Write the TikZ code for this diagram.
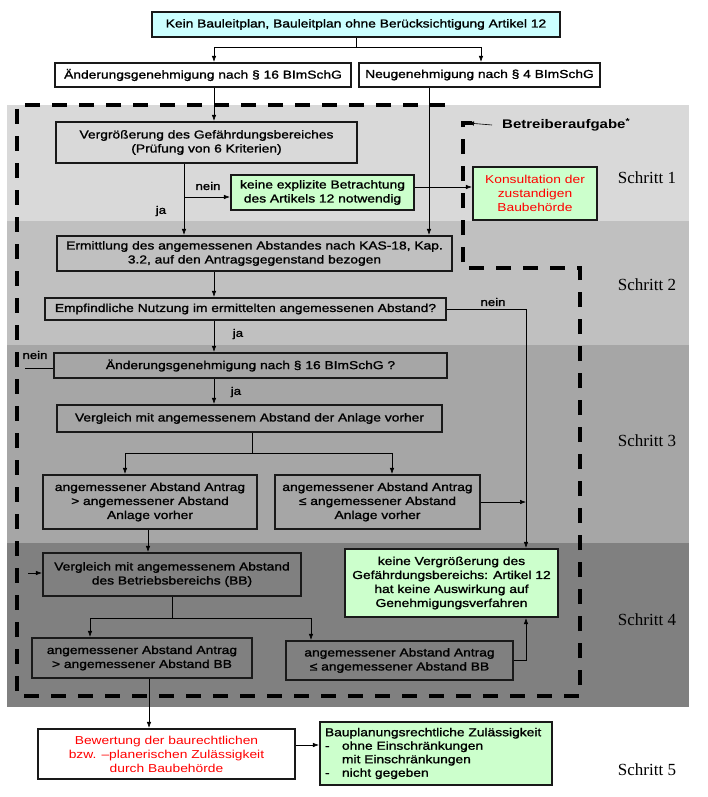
\documentclass[tikz,border=0pt]{standalone}
\usepackage{fontspec}
\setmainfont{Liberation Serif}
\newfontfamily\boxfont{Liberation Sans}[FakeStretch=1.2,FakeBold=1.4]
\newfontfamily\redfont{Liberation Sans}[FakeStretch=1.2]
\usetikzlibrary{arrows.meta,positioning,calc}
\definecolor{bandA}{RGB}{217,217,217}
\definecolor{bandB}{RGB}{192,192,192}
\definecolor{bandC}{RGB}{166,166,166}
\definecolor{bandD}{RGB}{128,128,128}
\definecolor{paleGreen}{RGB}{204,255,204}
\definecolor{paleCyan}{RGB}{204,255,255}
\definecolor{boxline}{RGB}{25,25,25}
\tikzset{stepbox/.style={rectangle,
       draw=boxline,
       line width=2.2pt,
       inner sep=2pt,
       align=center,
       font=\boxfont\fontsize{11.5}{14}\selectfont
     },
     wh/.style 2 args={minimum width=#1pt,minimum height=#2pt},
     greenbox/.style={stepbox,fill=paleGreen},
     cyanbox/.style={stepbox,fill=paleCyan},
     whitebox/.style={stepbox,fill=white},
     redtext/.style={text=red,font=\redfont\fontsize{11.5}{14}\selectfont},
     answer/.style={font=\boxfont\fontsize{11}{13}\selectfont,inner sep=1pt},
     schritt/.style={font=\fontsize{17}{20}\selectfont}
}

\begin{document}
\begin{tikzpicture}[
    x=1pt,y=-1pt,
    flow/.style={draw=black,line width=0.6pt},
    arr/.style={flow,-{Latex[length=6pt,width=4.5pt]}},
    operator/.style={line width=4.5pt,dash pattern=on 15pt off 12pt}]
    \useasboundingbox (0,0) rectangle (708,797);
    % bands of the five steps
    \fill[bandA] (7,105) rectangle (689,221);
    \fill[bandB] (7,221) rectangle (689,345);
    \fill[bandC] (7,345) rectangle (689,543);
    \fill[bandD] (7,543) rectangle (689,707);
    \draw[operator] (445,105) -- (17,105) -- (17,696) -- (580,696) -- (580,268)
      -- (463,268) -- (463,123) -- (472,123);

    \node[cyanbox,wh={408}{25}] (kein) at (356,24.5) {Kein Bauleitplan, Bauleitplan ohne Berücksichtigung Artikel 12};
    \node[whitebox,wh={296}{24}] (aendg) at (203,75) {Änderungsgenehmigung nach § 16 BImSchG};
    \node[whitebox,wh={241}{24}] (neug) at (479.5,75) {Neugenehmigung nach § 4 BImSchG};

    % Schritt 1
    \node[stepbox,wh={301}{41}] (vergr) at (206.5,142.5) {Vergrößerung des Gefährdungsbereiches\\(Prüfung von 6 Kriterien)};
    \node[greenbox,wh={183}{35}] (keinbetr) at (322.5,192.5) {keine explizite Betrachtung\\des Artikels 12 notwendig};
    \node[greenbox,redtext,wh={124}{53}] (konsult) at (535,193.5) {Konsultation der\\zustandigen\\Baubehörde};
    \node[font=\redfont\bfseries\fontsize{12.5}{15}\selectfont,inner sep=0pt,anchor=west] (betreiber) at (502,125) {Betreiberaufgabe\textsuperscript{*}};

    % Schritt 2
    \node[stepbox,wh={395}{35}] (ermitt) at (254.5,253.5) {Ermittlung des angemessenen Abstandes nach KAS-18, Kap.\\3.2, auf den Antragsgegenstand bezogen};
    \node[stepbox,wh={401}{22}] (empf) at (245.5,309) {Empfindliche Nutzung im ermittelten angemessenen Abstand?};

    % Schritt 3
    \node[stepbox,wh={393}{25}] (aendq) at (250.5,365.5) {Änderungsgenehmigung nach § 16 BImSchG ?};
    \node[stepbox,wh={385}{27}] (vglalt) at (249.5,418.5) {Vergleich mit angemessenem Abstand der Anlage vorher};
    \node[stepbox,wh={214}{54}] (groesseralt) at (150,502) {angemessener Abstand Antrag\\> angemessener Abstand\\Anlage vorher};
    \node[stepbox,wh={205}{54}] (kleineralt) at (377.5,502) {angemessener Abstand Antrag\\≤ angemessener Abstand\\Anlage vorher};

    % Schritt 4
    \node[stepbox,wh={258}{43}] (vglbb) at (172,574.5) {Vergleich mit angemessenem Abstand\\des Betriebsbereichs (BB)};
    \node[greenbox,wh={213}{68}] (keinevg) at (451.5,583) {keine Vergrößerung des\\Gefährdungsbereichs: Artikel 12\\hat keine Auswirkung auf\\Genehmigungsverfahren};
    \node[stepbox,wh={220}{40}] (groesserbb) at (142,658) {angemessener Abstand Antrag\\> angemessener Abstand BB};
    \node[stepbox,wh={227}{39}] (kleinerbb) at (399.5,660.5) {angemessener Abstand Antrag\\≤ angemessener Abstand BB};

    % Schritt 5
    \node[whitebox,redtext,wh={257}{50}] (bewert) at (166.5,754) {Bewertung der baurechtlichen\\bzw. –planerischen Zulässigkeit\\durch Baubehörde};
    \node[greenbox,wh={232}{63},align=left,text width=222pt,inner sep=3pt,font=\boxfont\fontsize{11.5}{13.5}\selectfont] (zulaess) at (436,753.5)
      {Bauplanungsrechtliche Zulässigkeit\\\makebox[17pt][l]{-}ohne Einschränkungen\\\hspace*{17pt}mit Einschränkungen\\\makebox[17pt][l]{-}nicht gegeben};

    \node[schritt] (schritt1) at (647,178) {Schritt 1};
    \node[schritt] (schritt2) at (647,285) {Schritt 2};
    \node[schritt] (schritt3) at (647,441) {Schritt 3};
    \node[schritt] (schritt4) at (647,620) {Schritt 4};
    \node[schritt] (schritt5) at (647,770) {Schritt 5};

    % connectors
    \coordinate (mitte) at (214,0);
    \coordinate (teil) at ($(kein.south)+(0,9)$);
    \draw[flow] (kein.south) -- (teil);
    \draw[arr] (teil) -| ([xshift=11pt]aendg.north);
    \draw[arr] (teil) -| ([xshift=1.5pt]neug.north);
    \draw[arr] (aendg.south -| mitte) -- (vergr.north -| mitte);
    \draw[arr] ([xshift=-50.5pt]neug.south) -- ([xshift=-50.5pt]neug.south |- ermitt.north);

    \coordinate (gabel1) at (184,197);
    \draw[arr] (vergr.south -| gabel1) -- (ermitt.north -| gabel1);
    \draw[arr] (gabel1) -- (gabel1 -| keinbetr.west);
    \node[answer] (neinA) at (208,186) {nein};
    \node[answer] (jaA) at (161,211) {ja};
    \draw[arr] ([yshift=5.5pt]keinbetr.east) -- ([yshift=5.5pt]keinbetr.east -| konsult.west);
    \draw[arr] ([xshift=-10pt]betreiber.west) -- (468,123);

    \draw[arr] (ermitt.south -| mitte) -- (empf.north -| mitte);
    \coordinate (neinweg) at (526,312);
    \draw[arr] (empf.east) -- (empf.east -| neinweg) -- (keinevg.north -| neinweg);
    \node[answer] (neinB) at (493,302) {nein};
    \draw[arr] (empf.south -| mitte) -- (aendq.north -| mitte);
    \node[answer] (jaB) at (238,334) {ja};

    \coordinate (neinlinks) at (25,368);
    \draw[flow] (aendq.west |- neinlinks) -- (neinlinks);
    \node[answer] (neinC) at (35,355) {nein};
    \draw[arr] (aendq.south -| mitte) -- (vglalt.north -| mitte);
    \node[answer] (jaC) at (236,392) {ja};

    \coordinate (gabel2) at (252,453);
    \draw[flow] (vglalt.south -| gabel2) -- (gabel2);
    \draw[arr] (gabel2) -| ([xshift=-25pt]groesseralt.north);
    \draw[arr] (gabel2) -| ([xshift=14.5pt]kleineralt.north);
    \draw[arr] (kleineralt.east) -- (kleineralt.east -| neinweg);
    \draw[arr] ([xshift=-2pt]groesseralt.south) -- ([xshift=-2pt]groesseralt.south |- vglbb.north);

    \coordinate (vonlinks) at (28,573);
    \draw[arr] (vonlinks) -- (vonlinks -| vglbb.west);
    \coordinate (gabel3) at (172,618);
    \draw[flow] (vglbb.south -| gabel3) -- (gabel3);
    \draw[arr] (gabel3) -| ([xshift=-52pt]groesserbb.north);
    \draw[arr] (gabel3) -| ([xshift=-88.5pt]kleinerbb.north);
    \draw[arr] (kleinerbb.east) -- (kleinerbb.east -| neinweg) -- (keinevg.south -| neinweg);

    \draw[arr] ([xshift=7pt]groesserbb.south) -- ([xshift=7pt]groesserbb.south |- bewert.north);
    \draw[arr] ([yshift=9pt]bewert.east) -- ([yshift=9pt]bewert.east -| zulaess.west);
\end{tikzpicture}
\end{document}
